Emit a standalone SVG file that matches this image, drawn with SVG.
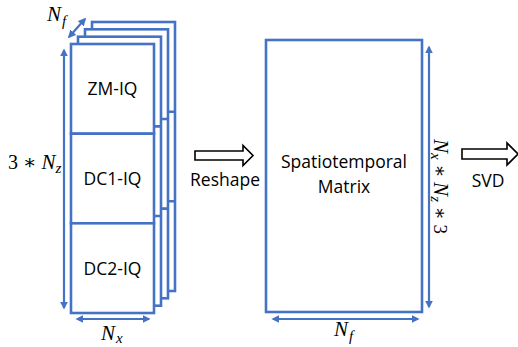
<svg xmlns="http://www.w3.org/2000/svg" width="518" height="347" viewBox="0 0 518 347">
<style>
.fr{fill:#fff;stroke:#4472C4;stroke-width:2.6}
.ln{fill:none;stroke:#4472C4;stroke-width:2.6}
.ar{fill:none;stroke:#4472C4;stroke-width:2.2;marker-start:url(#ah);marker-end:url(#ah)}
.blk{fill:#fff;stroke:#000;stroke-width:1.6}
.t{font-family:"Open Sans","Liberation Sans",sans-serif;font-size:17.5px;fill:#000;text-anchor:middle}
.m{font-family:"Liberation Serif","DejaVu Serif",serif;font-style:italic;font-size:21px;fill:#000}
.ms{font-family:"Liberation Serif","DejaVu Serif",serif;font-style:italic;font-size:15px;fill:#000}
.mu{font-family:"Liberation Serif","DejaVu Serif",serif;font-size:20px;fill:#000}
</style>
<defs>
<marker id="ah" viewBox="0 0 10 10" refX="8" refY="5" markerWidth="3.6" markerHeight="3.6" orient="auto-start-reverse" markerUnits="strokeWidth">
<path d="M0,0 L10,5 L0,10 z" fill="#4472C4"/>
</marker>
</defs>
<g id="stack">
<g id="frame4"><rect class="fr" x="92" y="22" width="83" height="269"/><line class="ln" x1="92" y1="111.7" x2="175" y2="111.7"/><line class="ln" x1="92" y1="201.3" x2="175" y2="201.3"/></g>
<g id="frame3"><rect class="fr" x="85" y="29.3" width="83" height="269"/><line class="ln" x1="85" y1="119" x2="168" y2="119"/><line class="ln" x1="85" y1="208.6" x2="168" y2="208.6"/></g>
<g id="frame2"><rect class="fr" x="78" y="36.7" width="83" height="269"/><line class="ln" x1="78" y1="126.4" x2="161" y2="126.4"/><line class="ln" x1="78" y1="216" x2="161" y2="216"/></g>
<g id="zm-iq"><rect class="fr" x="71" y="44" width="83" height="89.7"/><text class="t" x="112.5" y="95">ZM-IQ</text></g>
<g id="dc1-iq"><rect class="fr" x="71" y="133.7" width="83" height="89.6"/><text class="t" x="112.5" y="185">DC1-IQ</text></g>
<g id="dc2-iq"><rect class="fr" x="71" y="223.3" width="83" height="89.7"/><text class="t" x="112.5" y="275">DC2-IQ</text></g>
</g>
<g id="matrix"><rect class="fr" x="266" y="40" width="156" height="272"/><text class="t" x="344" y="168">Spatiotemporal</text><text class="t" x="344" y="193">Matrix</text></g>
<g id="connectors">
<line class="ar" x1="64" y1="50" x2="64" y2="308"/>
<line class="ar" x1="69" y1="37" x2="85" y2="19"/>
<line class="ar" x1="77" y1="319" x2="149" y2="319"/>
<line class="ar" x1="429" y1="47" x2="429" y2="307"/>
<line class="ar" x1="273" y1="319" x2="418" y2="319"/>
<path class="blk" d="M195,151 L243,151 L243,145.5 L253,155.5 L243,165.5 L243,160 L195,160 z"/>
<path class="blk" d="M462,149 L507,149 L507,143 L518,154 L507,165 L507,159 L462,159 z"/>
</g>
<g id="labels">
<text class="m" x="47" y="21">N<tspan class="ms" dx="1" dy="5">f</tspan></text>
<text x="8" y="169"><tspan class="mu">3 ∗ </tspan><tspan class="m">N</tspan><tspan class="ms" dy="4">z</tspan></text>
<text class="m" x="101" y="340">N<tspan class="ms" dx="1" dy="3">x</tspan></text>
<text class="m" x="334" y="336">N<tspan class="ms" dx="1" dy="5">f</tspan></text>
<text transform="translate(434,139) rotate(90)" style="font-size:0"><tspan class="m">N</tspan><tspan class="ms" dy="3">x</tspan><tspan class="mu" dy="-3" style="font-size:19px"> ∗ </tspan><tspan class="m">N</tspan><tspan class="ms" dy="3">z</tspan><tspan class="mu" dy="-3" style="font-size:19px"> ∗ 3</tspan></text>
<text class="t" x="225" y="186">Reshape</text>
<text class="t" x="488" y="187">SVD</text>
</g>
</svg>
